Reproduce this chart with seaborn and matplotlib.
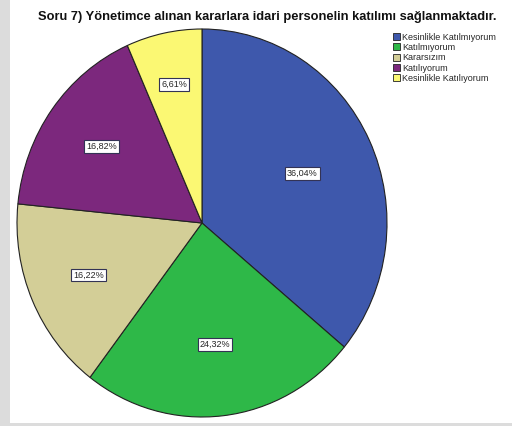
import matplotlib
matplotlib.use("Agg")
import matplotlib.pyplot as plt
import seaborn as sns
import numpy as np
from matplotlib.patches import Rectangle

categories = ["Kesinlikle Katılmıyorum", "Katılmıyorum", "Kararsızım",
              "Katılıyorum", "Kesinlikle Katılıyorum"]
percents = [36.04, 24.32, 16.22, 16.82, 6.61]
pct_labels = ["36,04%", "24,32%", "16,22%", "16,82%", "6,61%"]
colors = ["#3E58AC", "#2EB848", "#D3CE97", "#7C287D", "#FBF873"]
title = "Soru 7) Yönetimce alınan kararlara idari personelin katılımı sağlanmaktadır."

# how far from the centre each label box sits (fraction of radius)
label_dist = [0.6, 0.63, 0.67, 0.67, 0.73]

sns.set_theme(style="white")
plt.rcParams["font.family"] = ["Liberation Sans", "DejaVu Sans"]

W, H = 512, 426
fig = plt.figure(figsize=(W / 100, H / 100), dpi=100, facecolor="white")

# grey frame strips (left and bottom)
fig.patches.append(Rectangle((0, 0), 10 / W, 1, transform=fig.transFigure,
                             facecolor="#dcdcdc", edgecolor="none", zorder=0))
fig.patches.append(Rectangle((0, 0), 1, 3 / H, transform=fig.transFigure,
                             facecolor="#dcdcdc", edgecolor="none", zorder=0))

ax = fig.add_axes([17 / W, 9 / H, 370 / W, 388 / H])
wedges, _ = ax.pie(percents, colors=colors, startangle=90, counterclock=False,
                   wedgeprops=dict(edgecolor="#222222", linewidth=0.8))
ax.set_aspect("auto")
ax.set_xlim(-1, 1)
ax.set_ylim(-1, 1)
ax.axis("off")

# percentage labels in boxes, placed on each wedge's mid angle
for w, lab, d in zip(wedges, pct_labels, label_dist):
    mid = np.deg2rad((w.theta1 + w.theta2) / 2)
    ax.text(d * np.cos(mid), d * np.sin(mid), lab, ha="center", va="center",
            fontsize=6.5,
            bbox=dict(boxstyle="square,pad=0.2", facecolor="white",
                      edgecolor="#333355", linewidth=0.8))

fig.text(267 / W, 1 - 17 / H, title, ha="center", va="center",
         fontsize=9.3, fontweight="bold", color="#111111")

leg = fig.legend(wedges, categories, loc="upper left",
                 bbox_to_anchor=(388 / W, 1 - 28 / H), frameon=False,
                 fontsize=6.5, handlelength=0.8, handleheight=0.8,
                 handletextpad=0.3, labelspacing=0.15, borderpad=0)
for h in leg.legend_handles:
    h.set_edgecolor("#222222")
    h.set_linewidth(0.6)

fig.savefig("out.png", dpi=100, facecolor="white")
